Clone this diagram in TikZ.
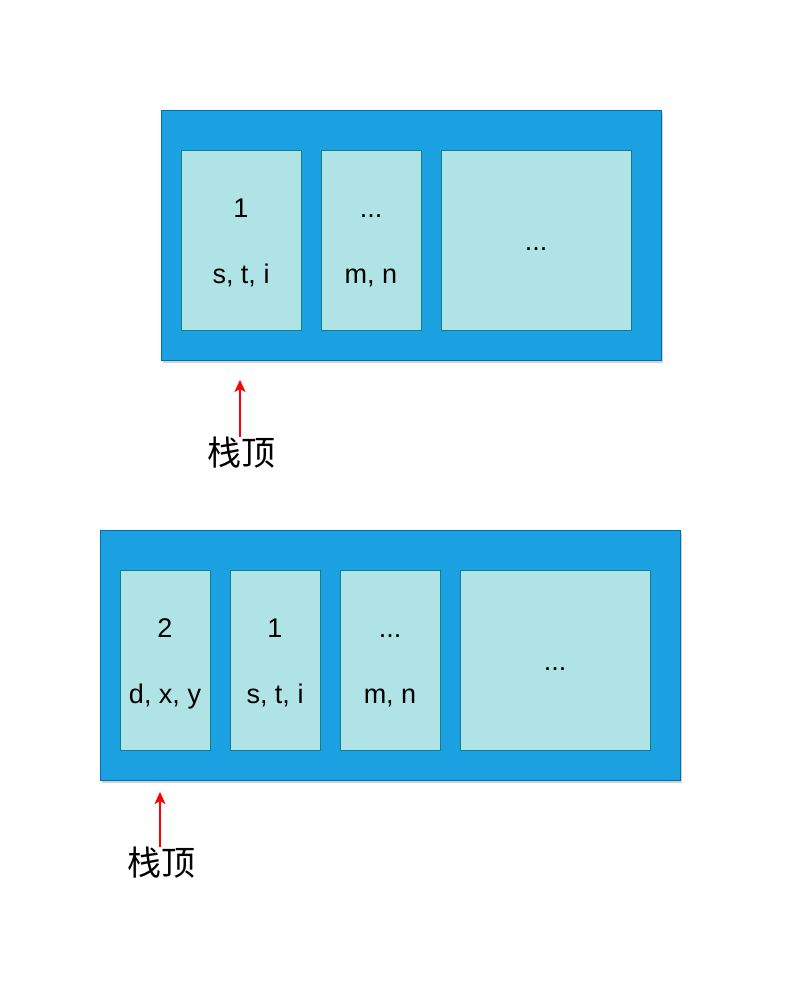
\documentclass[tikz,border=0pt]{standalone}
\usepackage{fontspec}
\setmainfont{Liberation Sans}
\newfontfamily\cjk{Noto Sans CJK SC}
\usetikzlibrary{arrows.meta,shadows}
\definecolor{outerfill}{HTML}{1BA1E2}
\definecolor{outerdraw}{HTML}{006EAF}
\definecolor{innerfill}{HTML}{B0E3E6}
\definecolor{innerdraw}{HTML}{0E8088}
\tikzset{
  frame/.style={draw=outerdraw, fill=outerfill, line width=0.8pt, anchor=north west, inner sep=0pt,
    drop shadow={shadow xshift=2pt, shadow yshift=-3pt, opacity=0.3, fill=black!60}},
  cell/.style={draw=innerdraw, fill=innerfill, line width=0.8pt, anchor=north west, inner sep=0pt},
  txt/.style={font=\fontsize{27}{32}\selectfont, text=black, inner sep=0pt, anchor=base},
  toplabel/.style={font=\cjk\fontsize{34}{40}\selectfont, text=black, inner sep=0pt},
  ptr/.style={draw=red, line width=1.2pt, -{Stealth[length=12pt,width=11pt,inset=3pt]}}
}
\begin{document}
\begin{tikzpicture}[x=1pt,y=-1pt]
\useasboundingbox (0,0) rectangle (803,982);
% ---------- top stack ----------
\node[frame, minimum width=500pt, minimum height=250pt] (f1) at (161,110) {};
\node[cell, minimum width=120pt, minimum height=180pt] (a1) at (181,150) {};
\node[cell, minimum width=100pt, minimum height=180pt] (a2) at (321,150) {};
\node[cell, minimum width=190pt, minimum height=180pt] (a3) at (441,150) {};
\node[txt] (a1n) at (241,217) {1};
\node[txt] (a1v) at (241,283) {s, t, i};
\node[txt] (a2n) at (371,217) {...};
\node[txt] (a2v) at (371,283) {m, n};
\node[txt] (a3n) at (536,250) {...};
\coordinate (p1tip) at (240,380);
\node[toplabel] (l1) at (241,453) {栈顶};
\draw[ptr] (l1.north -| p1tip) -- (p1tip);
% ---------- bottom stack ----------
\node[frame, minimum width=580pt, minimum height=250pt] (f2) at (100,530) {};
\node[cell, minimum width=90pt, minimum height=180pt] (b1) at (120,570) {};
\node[cell, minimum width=90pt, minimum height=180pt] (b2) at (230,570) {};
\node[cell, minimum width=100pt, minimum height=180pt] (b3) at (340,570) {};
\node[cell, minimum width=190pt, minimum height=180pt] (b4) at (460,570) {};
\node[txt] (b1n) at (165,637) {2};
\node[txt] (b1v) at (165,703) {d, x, y};
\node[txt] (b2n) at (275,637) {1};
\node[txt] (b2v) at (275,703) {s, t, i};
\node[txt] (b3n) at (390,637) {...};
\node[txt] (b3v) at (390,703) {m, n};
\node[txt] (b4n) at (555,670) {...};
\coordinate (p2tip) at (160,792);
\node[toplabel] (l2) at (161,863) {栈顶};
\draw[ptr] (l2.north -| p2tip) -- (p2tip);
\end{tikzpicture}
\end{document}
